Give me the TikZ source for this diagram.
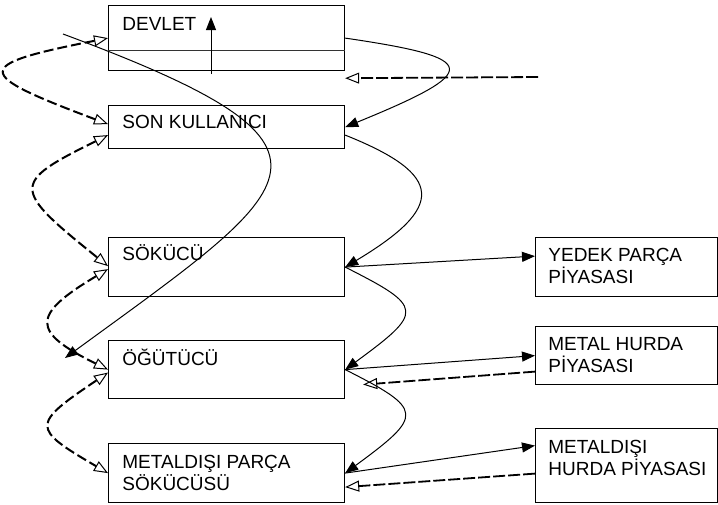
\documentclass[tikz,border=0pt]{standalone}
\usepackage{fontspec}
\setmainfont{Liberation Sans}
\usetikzlibrary{arrows.meta,calc}

\tikzset{
  kutu/.style={draw, line width=0.6pt, anchor=north west, inner sep=0pt, minimum width=118pt},
  pazar/.style={kutu, minimum width=91pt},
  yazi/.style={anchor=north west, align=left, inner sep=0pt, font=\fontsize{9.5}{11}\selectfont},
  akis/.style={line width=0.5pt, -{Triangle[length=6.5pt,width=5pt]}},
  acik/.style={Triangle[open,length=7pt,width=5.5pt,line width=0.5pt]},
  geri/.style={line width=0.9pt, dash pattern=on 6pt off 1.5pt, -{Triangle[open,length=7pt,width=5.5pt,line width=0.5pt]}},
  donus/.style={line width=1pt, dash pattern=on 5pt off 2pt,
    {Triangle[open,length=7pt,width=5.5pt,line width=0.5pt]}-{Triangle[open,length=7pt,width=5.5pt,line width=0.5pt]}}
}

\begin{document}
\begin{tikzpicture}[x=0.5pt,y=-0.5pt]
\useasboundingbox (0,0) rectangle (718,504);

% kutular
\node[kutu, minimum height=32.5pt] (devlet) at (108,5) {};
\node[kutu, minimum height=21.5pt] (kullanici) at (108,105) {};
\node[kutu, minimum height=29.5pt] (sokucu) at (108,237) {};
\node[kutu, minimum height=29pt] (ogutucu) at (108,340) {};
\node[kutu, minimum height=29.5pt] (mdsokucu) at (108,443) {};
\node[pazar, minimum height=29.5pt] (yedek) at (535,237) {};
\node[pazar, minimum height=29pt] (metal) at (535,326) {};
\node[pazar, minimum height=37pt] (mdhurda) at (535,428) {};

\node[yazi] (devlet-y) at ($(devlet.north west)+(14,12)$) {DEVLET};
\node[yazi] (kullanici-y) at ($(kullanici.north west)+(14,10)$) {SON KULLANICI};
\node[yazi] (sokucu-y) at ($(sokucu.north west)+(14,7)$) {SÖKÜCÜ};
\node[yazi] (ogutucu-y) at ($(ogutucu.north west)+(14,9)$) {ÖĞÜTÜCÜ};
\node[yazi] (mdsokucu-y) at ($(mdsokucu.north west)+(14,12)$) {METALDIŞI PARÇA\\SÖKÜCÜSÜ};
\node[yazi] (yedek-y) at ($(yedek.north west)+(13,11)$) {YEDEK PARÇA\\PİYASASI};
\node[yazi] (metal-y) at ($(metal.north west)+(13,11)$) {METAL HURDA\\PİYASASI};
\node[yazi] (mdhurda-y) at ($(mdhurda.north west)+(13,12)$) {METALDIŞI\\HURDA PİYASASI};

\draw[line width=0.4pt, black!80] ($(devlet.north west)+(0,45)$) -- ($(devlet.north east)+(0,45)$);
\draw[akis] ($(devlet.south west)+(103,3)$) -- ($(devlet.north west)+(103,12)$);

% malzeme akisi
\coordinate (disari) at (538,77);
\draw[akis] (devlet.east) .. controls +(137,20) and +(137,-56) .. (kullanici.east);
\draw[geri] (disari) -- ($(devlet.south east)+(0,7)$);
\draw[akis] ($(kullanici.east)+(0,8)$) .. controls +(100,40) and +(100,-60) .. (sokucu.east);
\draw[akis] (sokucu.east) -- ($(yedek.west)+(0,-11)$);
\draw[akis] (sokucu.east) .. controls +(79,40) and +(79,-58) .. (ogutucu.east);
\draw[akis] (ogutucu.east) -- (metal.west);
\draw[geri] ($(metal.west)+(0,16)$) -- ($(ogutucu.east)+(18,15)$);
\draw[akis] (ogutucu.east) .. controls +(79,40) and +(79,-58) .. (mdsokucu.east);
\draw[akis] (mdsokucu.east) -- ($(mdhurda.west)+(0,-20)$);
\draw[geri] ($(mdhurda.west)+(0,8)$) -- ($(mdsokucu.east)+(0,14)$);

\coordinate (bas) at (63,34);
\coordinate (son) at (65,358);
\draw[akis] (bas) .. controls +(307,114) and +(240,-175) .. (son);

% bilgi akisi
\draw[donus] (devlet.west) .. controls +(-136,27) and +(-136,-51) .. ($(kullanici.west)+(0,-3)$);
\draw[donus] ($(kullanici.west)+(0,8)$) .. controls +(-97,48) and +(-97,-78) .. ($(sokucu.west)+(0,-1)$);
\draw[donus] ($(sokucu.west)+(0,2)$) .. controls +(-77,46) and +(-77,-38) .. (ogutucu.west);
\draw[donus] ($(ogutucu.west)+(0,3)$) .. controls +(-77,52) and +(-77,-45) .. (mdsokucu.west);
\end{tikzpicture}
\end{document}
